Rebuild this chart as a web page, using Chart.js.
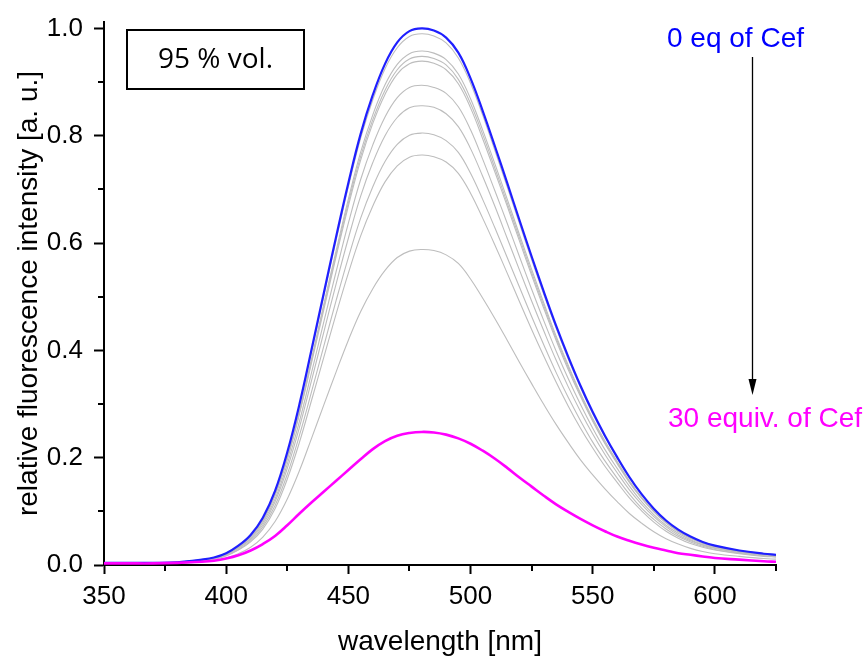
<!DOCTYPE html>
<html>
<head>
<meta charset="utf-8">
<script src="https://cdn.jsdelivr.net/npm/chart.js@4.4.1/dist/chart.umd.min.js"></script>
<style>
  html, body { margin: 0; padding: 0; background: #ffffff; }
  #wrap { width: 868px; height: 657px; position: relative; }
</style>
</head>
<body>
<div id="wrap"><canvas id="c" width="868" height="657"></canvas></div>
<script>
// ---- data ----
const wavelengths = [350,360,370,380,390,395,400,405,410,415,420,425,430,435,440,445,450,455,460,465,470,475,480,485,490,495,500,505,510,515,520,525,530,535,540,545,550,555,560,565,570,575,580,585,590,595,600,610,620,625];

const eq0 = [0.004,0.004,0.004,0.005,0.010,0.014,0.022,0.036,0.056,0.088,0.138,0.210,0.300,0.403,0.508,0.612,0.712,0.803,0.876,0.934,0.974,0.995,1.000,0.996,0.983,0.955,0.907,0.846,0.780,0.712,0.643,0.575,0.509,0.446,0.388,0.334,0.285,0.241,0.201,0.164,0.132,0.105,0.083,0.066,0.053,0.043,0.036,0.027,0.021,0.019];

const step1 = [0.004,0.004,0.004,0.005,0.010,0.014,0.022,0.036,0.055,0.087,0.137,0.208,0.297,0.399,0.503,0.606,0.705,0.795,0.867,0.925,0.964,0.985,0.990,0.986,0.973,0.945,0.898,0.838,0.772,0.705,0.637,0.569,0.504,0.442,0.384,0.331,0.282,0.239,0.199,0.162,0.131,0.104,0.082,0.065,0.052,0.043,0.036,0.027,0.021,0.019];
const step2 = [0.004,0.004,0.004,0.005,0.010,0.013,0.021,0.034,0.054,0.084,0.132,0.201,0.287,0.386,0.487,0.586,0.682,0.769,0.839,0.895,0.933,0.953,0.958,0.954,0.942,0.915,0.869,0.810,0.747,0.682,0.616,0.551,0.488,0.427,0.372,0.320,0.273,0.231,0.193,0.157,0.126,0.101,0.080,0.063,0.051,0.041,0.034,0.026,0.020,0.018];
const step3 = [0.004,0.004,0.004,0.005,0.009,0.013,0.021,0.034,0.053,0.083,0.131,0.199,0.284,0.382,0.482,0.580,0.675,0.761,0.830,0.885,0.923,0.943,0.948,0.944,0.932,0.905,0.860,0.802,0.739,0.675,0.610,0.545,0.483,0.423,0.368,0.317,0.270,0.228,0.191,0.155,0.125,0.100,0.079,0.063,0.050,0.041,0.034,0.026,0.020,0.018];
const step4 = [0.004,0.004,0.004,0.005,0.009,0.013,0.021,0.034,0.053,0.083,0.130,0.197,0.282,0.378,0.477,0.575,0.669,0.754,0.823,0.877,0.915,0.934,0.939,0.935,0.923,0.897,0.852,0.794,0.732,0.669,0.604,0.540,0.478,0.419,0.364,0.314,0.268,0.226,0.189,0.154,0.124,0.099,0.078,0.062,0.050,0.040,0.034,0.025,0.020,0.018];
const step5 = [0.004,0.004,0.004,0.004,0.009,0.013,0.020,0.032,0.050,0.079,0.123,0.188,0.268,0.360,0.454,0.547,0.637,0.718,0.783,0.835,0.871,0.890,0.894,0.890,0.879,0.854,0.811,0.756,0.697,0.637,0.575,0.514,0.455,0.399,0.347,0.299,0.255,0.215,0.180,0.147,0.118,0.094,0.074,0.059,0.047,0.038,0.032,0.024,0.019,0.017];
const step6 = [0.003,0.003,0.003,0.004,0.009,0.012,0.019,0.031,0.048,0.075,0.118,0.180,0.257,0.345,0.435,0.524,0.609,0.687,0.750,0.800,0.834,0.852,0.856,0.853,0.841,0.817,0.776,0.724,0.668,0.609,0.550,0.492,0.436,0.382,0.332,0.286,0.244,0.206,0.172,0.140,0.113,0.090,0.071,0.056,0.045,0.037,0.031,0.023,0.018,0.016];
const step7 = [0.003,0.003,0.003,0.004,0.008,0.011,0.018,0.029,0.045,0.071,0.111,0.169,0.242,0.324,0.409,0.493,0.573,0.646,0.705,0.752,0.784,0.801,0.805,0.802,0.791,0.769,0.730,0.681,0.628,0.573,0.518,0.463,0.410,0.359,0.312,0.269,0.229,0.194,0.162,0.132,0.106,0.085,0.067,0.053,0.043,0.035,0.029,0.022,0.017,0.015];
const step8 = [0.003,0.003,0.003,0.004,0.008,0.011,0.017,0.028,0.043,0.067,0.105,0.160,0.229,0.308,0.388,0.468,0.544,0.613,0.669,0.714,0.744,0.760,0.764,0.761,0.751,0.730,0.693,0.646,0.596,0.544,0.491,0.439,0.389,0.341,0.296,0.255,0.218,0.184,0.154,0.125,0.101,0.080,0.063,0.050,0.040,0.033,0.028,0.021,0.016,0.015];
const step9 = [0.003,0.003,0.003,0.003,0.006,0.008,0.013,0.021,0.033,0.052,0.081,0.123,0.176,0.237,0.299,0.360,0.419,0.472,0.515,0.549,0.573,0.585,0.588,0.586,0.578,0.562,0.533,0.497,0.459,0.419,0.378,0.338,0.299,0.262,0.228,0.196,0.168,0.142,0.118,0.096,0.078,0.062,0.049,0.039,0.031,0.025,0.021,0.016,0.012,0.011];

const eq30 = [0.003,0.003,0.003,0.004,0.006,0.008,0.012,0.018,0.027,0.039,0.054,0.074,0.096,0.117,0.137,0.157,0.177,0.197,0.216,0.231,0.241,0.246,0.248,0.247,0.243,0.236,0.226,0.213,0.198,0.181,0.163,0.146,0.129,0.113,0.099,0.086,0.074,0.063,0.053,0.045,0.038,0.032,0.027,0.022,0.019,0.016,0.013,0.010,0.007,0.006];

const grayLevels = [step1, step2, step3, step4, step5, step6, step7, step8, step9];

const xTickLabels = [350, 400, 450, 500, 550, 600];
const yTickLabels = ["0.0", "0.2", "0.4", "0.6", "0.8", "1.0"];

const boxText = "95 % vol.";
const topLabel = "0 eq of Cef";
const bottomLabel = "30 equiv. of Cef";

// ---- build datasets ----
const pts = arr => wavelengths.map((w, i) => ({ x: w, y: arr[i] }));

const datasets = [];
datasets.push({ label: '30 eq', data: pts(eq30), borderColor: '#ff00ff', borderWidth: 2.6, order: 0 });
datasets.push({ label: '0 eq', data: pts(eq0), borderColor: '#1f1fff', borderWidth: 2.2, order: 1 });
grayLevels.forEach((g, k) => {
  datasets.push({ label: 'step ' + (k + 1), data: pts(g), borderColor: '#bdbdbd', borderWidth: 1.1, order: 2 + k });
});

const isMajorX = v => Math.abs(v % 50) < 1e-6;
const isMajorY = v => Math.abs(Math.round(v * 10) % 2) === 0;

const decor = {
  id: 'decor',
  afterDraw(chart) {
    const { ctx, chartArea } = chart;
    const xs = chart.scales.x, ys = chart.scales.y;
    ctx.save();
    // minor ticks
    ctx.strokeStyle = '#000'; ctx.lineWidth = 2;
    xs.ticks.forEach(t => {
      if (!isMajorX(t.value)) {
        const p = Math.round(xs.getPixelForValue(t.value));
        ctx.beginPath(); ctx.moveTo(p, chartArea.bottom); ctx.lineTo(p, chartArea.bottom + 6); ctx.stroke();
      }
    });
    ys.ticks.forEach(t => {
      if (!isMajorY(t.value)) {
        const p = Math.round(ys.getPixelForValue(t.value));
        ctx.beginPath(); ctx.moveTo(chartArea.left, p); ctx.lineTo(chartArea.left - 6, p); ctx.stroke();
      }
    });
    // text box
    ctx.lineWidth = 2; ctx.strokeStyle = '#000';
    ctx.strokeRect(127, 30, 177, 59);
    ctx.fillStyle = '#000';
    ctx.font = '28px "Open Sans", "Liberation Sans", sans-serif';
    ctx.textAlign = 'center'; ctx.textBaseline = 'middle';
    ctx.fillText(boxText, 215.5, 60);
    // labels
    ctx.font = '28px "Liberation Sans", Arial, sans-serif';
    ctx.textAlign = 'left'; ctx.textBaseline = 'alphabetic';
    ctx.fillStyle = '#0000ff';
    ctx.fillText(topLabel, 667, 47);
    ctx.fillStyle = '#ff00ff';
    ctx.fillText(bottomLabel, 668, 427);
    // arrow
    ctx.strokeStyle = '#000'; ctx.lineWidth = 1.3;
    ctx.beginPath(); ctx.moveTo(752.5, 57); ctx.lineTo(752.5, 382); ctx.stroke();
    ctx.fillStyle = '#000';
    ctx.beginPath(); ctx.moveTo(748.5, 379); ctx.lineTo(756.5, 379); ctx.lineTo(752.5, 395); ctx.closePath(); ctx.fill();
    ctx.restore();
  }
};

Chart.defaults.font.family = '"Liberation Sans", Arial, sans-serif';
Chart.defaults.color = '#000';

new Chart(document.getElementById('c'), {
  type: 'line',
  data: { datasets },
  options: {
    responsive: false,
    devicePixelRatio: 1,
    animation: false,
    parsing: true,
    layout: { padding: { left: 0, right: 92, top: 22, bottom: 0 } },
    elements: {
      point: { radius: 0, hoverRadius: 0 },
      line: { tension: 0.4, fill: false }
    },
    plugins: { legend: { display: false }, tooltip: { enabled: false } },
    scales: {
      x: {
        type: 'linear', min: 350, max: 625,
        border: { display: true, color: '#000', width: 2 },
        grid: {
          drawOnChartArea: false, drawTicks: true, tickLength: 9, tickWidth: 2,
          tickColor: c => (c.tick && isMajorX(c.tick.value)) ? '#000' : 'rgba(0,0,0,0)'
        },
        ticks: {
          stepSize: 25, autoSkip: false, maxRotation: 0, padding: 7,
          font: { size: 26 }, color: '#000',
          callback: v => xTickLabels.includes(v) ? String(v) : ''
        },
        title: { display: true, text: 'wavelength [nm]', font: { size: 28 }, color: '#000', padding: { top: 0, bottom: -2 } },
        afterFit: s => { s.height = 92; s.paddingLeft = 0; s.paddingRight = 0; }
      },
      y: {
        type: 'linear', min: 0, max: 1.012,
        border: { display: true, color: '#000', width: 2 },
        grid: {
          drawOnChartArea: false, drawTicks: true, tickLength: 10, tickWidth: 2,
          tickColor: c => (c.tick && isMajorY(c.tick.value)) ? '#000' : 'rgba(0,0,0,0)'
        },
        ticks: {
          stepSize: 0.1, includeBounds: false, autoSkip: false, padding: 11,
          font: { size: 26 }, color: '#000',
          callback: v => { const s = v.toFixed(1); return (isMajorY(v) && yTickLabels.includes(s)) ? s : ''; }
        },
        title: { display: true, text: 'relative fluorescence intensity [a. u.]', font: { size: 28 }, color: '#000', padding: { top: 12, bottom: 0 } },
        afterFit: s => { s.width = 104; s.paddingTop = 0; s.paddingBottom = 0; }
      }
    }
  },
  plugins: [decor]
});
</script>
</body>
</html>
